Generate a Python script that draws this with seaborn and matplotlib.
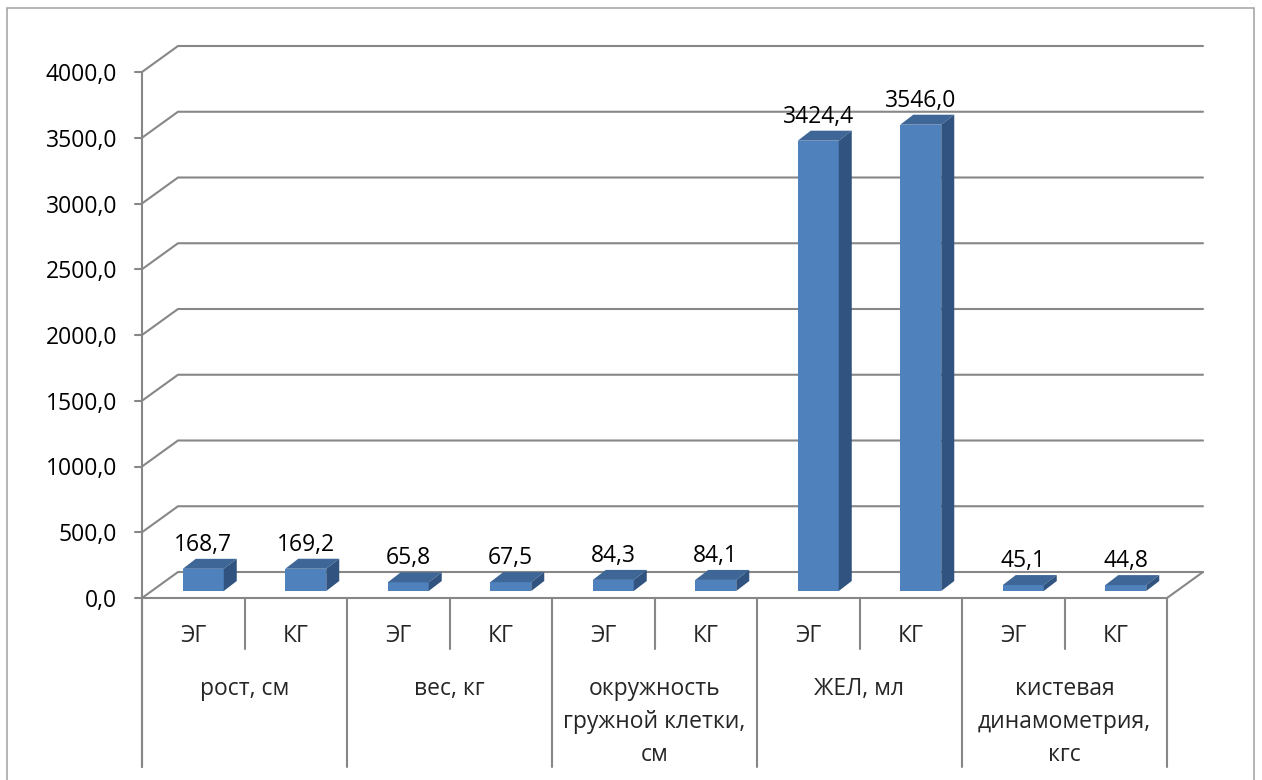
import numpy as np
import pandas as pd
import matplotlib
matplotlib.use("Agg")
import matplotlib.pyplot as plt
import matplotlib.transforms as mtransforms
from matplotlib.patches import Polygon, Rectangle
from matplotlib.lines import Line2D
import seaborn as sns

# ---- data -------------------------------------------------------------
groups = ["рост, см", "вес, кг", "окружность\nгружной клетки,\nсм",
          "ЖЕЛ, мл", "кистевая\nдинамометрия,\nкгс"]
subgroups = ["ЭГ", "КГ"]
eg_values = [168.7, 65.8, 84.3, 3424.4, 45.1]
kg_values = [169.2, 67.5, 84.1, 3546.0, 44.8]
y_ticks = list(range(0, 4001, 500))

rows = []
for g, e, k in zip(groups, eg_values, kg_values):
    rows.append({"slot": f"{g}|ЭГ", "group": g, "sub": "ЭГ", "value": e})
    rows.append({"slot": f"{g}|КГ", "group": g, "sub": "КГ", "value": k})
df = pd.DataFrame(rows)

# ---- style ------------------------------------------------------------
W, H = 1262, 780
sns.set_theme(style="white")
plt.rcParams["font.family"] = ["Open Sans", "DejaVu Sans"]
FS = 16.5
GRID = "#878787"
FRONT = "#4F81BD"
TOP = "#3E6797"
SIDE = "#30537F"

fig = plt.figure(figsize=(W / 100, H / 100), dpi=100)
fig.patch.set_facecolor("white")

# axes = the front plane of the 3-D plot box
ax = fig.add_axes([142 / W, 1 - 598 / H, 1025 / W, 526 / H])
sns.barplot(data=df, x="slot", y="value", color=FRONT, saturation=1,
            width=0.4, ax=ax, errorbar=None)
ax.set_xlim(-0.5, len(df) - 0.5)
ax.set_ylim(0, 4000)
ax.set_autoscale_on(False)
ax.set_axis_off()

ID = mtransforms.IdentityTransform()
Hpx = H  # display y is measured from the bottom


def disp(x, y):
    return ax.transData.transform((x, y))


# offsets (pixels) for the pseudo-3D look
WALL_DX, WALL_DY = 36, 26      # back wall relative to front plane
FACE_DX, FACE_DY = 10, 7       # bar front faces sit inside the box
DEP_DX, DEP_DY = 13, 10        # bar depth

xl, xr = -0.5, len(df) - 0.5

# back wall gridlines with slanted connectors to the front axis
for v in y_ticks:
    fx, fy = disp(xl, v)
    rx, _ = disp(xr, v)
    ax.add_line(Line2D([fx, fx + WALL_DX, rx + WALL_DX],
                       [fy, fy + WALL_DY, fy + WALL_DY],
                       transform=ID, color=GRID, lw=1.5, clip_on=False,
                       zorder=0.5))
    # tick mark and label on the front axis
    ax.add_line(Line2D([fx - 7, fx], [fy, fy], transform=ID, color=GRID,
                       lw=1.5, clip_on=False, zorder=0.5))
    ax.text(fx - 25, fy, f"{v:.1f}".replace(".", ","), transform=ID,
            ha="right", va="center_baseline", fontsize=FS, color="black",
            clip_on=False)

# floor: front edge and right edge
f0x, f0y = disp(xl, 0)
r0x, _ = disp(xr, 0)
ax.add_line(Line2D([f0x, r0x, r0x + WALL_DX], [f0y, f0y, f0y + WALL_DY],
                   transform=ID, color=GRID, lw=1.5, clip_on=False, zorder=0.5))

# vertical axis running down through the category table
table_bottom = Hpx - 767
top_x, top_y = disp(xl, 4000)
ax.add_line(Line2D([top_x, top_x], [top_y, table_bottom], transform=ID,
                   color=GRID, lw=1.5, clip_on=False, zorder=0.5))

# bars: shift front faces, then add top and side faces
shift = mtransforms.Affine2D().translate(FACE_DX, FACE_DY)
for p, val in zip(ax.patches, df["value"]):
    p.set_transform(ax.transData + shift)
    p.set_zorder(3)
    p.set_edgecolor("none")
    x0 = p.get_x()
    x1 = x0 + p.get_width()
    X0, Yb = disp(x0, 0)
    X1, Yt = disp(x1, p.get_height())
    X0 += FACE_DX
    X1 += FACE_DX
    Yb += FACE_DY
    Yt += FACE_DY
    top = Polygon([(X0, Yt), (X1, Yt), (X1 + DEP_DX, Yt + DEP_DY),
                   (X0 + DEP_DX, Yt + DEP_DY)], closed=True, transform=ID,
                  facecolor=TOP, edgecolor="none", clip_on=False, zorder=3)
    side = Polygon([(X1, Yb), (X1, Yt), (X1 + DEP_DX, Yt + DEP_DY),
                    (X1 + DEP_DX, Yb + DEP_DY)], closed=True, transform=ID,
                   facecolor=SIDE, edgecolor="none", clip_on=False, zorder=3)
    ax.add_patch(top)
    ax.add_patch(side)
    ax.text((X0 + X1) / 2, Yt + 27, f"{val:.1f}".replace(".", ","),
            transform=ID, ha="center", va="center_baseline", fontsize=FS,
            color="black", clip_on=False, zorder=4)

# category table under the floor
short_bottom = Hpx - 649
for i in range(len(df) + 1):
    ex, ey = disp(xl + i, 0)
    yb = table_bottom if i % 2 == 0 else short_bottom
    ax.add_line(Line2D([ex, ex], [ey, yb], transform=ID, color=GRID,
                       lw=1.5, clip_on=False, zorder=0.5))

for i, s in enumerate(df["sub"]):
    cx, _ = disp(i, 0)
    ax.text(cx, Hpx - 633, s, transform=ID, ha="center",
            va="center_baseline", fontsize=FS, clip_on=False)

for gi, g in enumerate(groups):
    cx, _ = disp(2 * gi + 0.5, 0)
    for li, line in enumerate(g.split("\n")):
        ax.text(cx, Hpx - 686 - 33 * li, line, transform=ID, ha="center",
                va="center_baseline", fontsize=FS, clip_on=False)

# chart area border
fig.add_artist(Rectangle((7, -10), 1247, Hpx - 8 + 10, transform=ID,
                         fill=False, edgecolor="#a0a0a0", lw=1.1))

fig.savefig("out.png", dpi=100, facecolor="white")
